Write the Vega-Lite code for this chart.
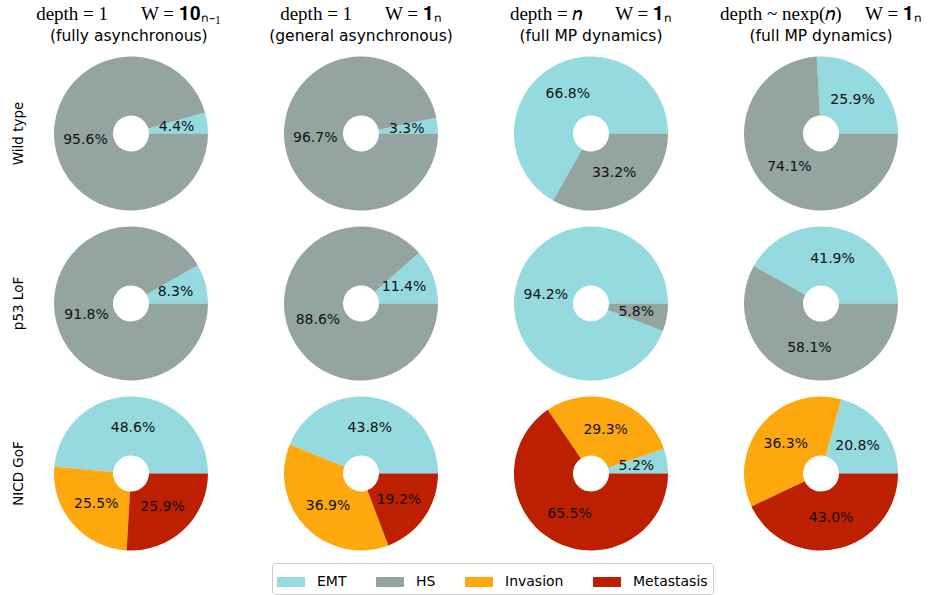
{
  "$schema": "https://vega.github.io/schema/vega-lite/v6.json",
  "background": "white",
  "padding": {"left": 11, "top": 4, "right": 0, "bottom": 2},
  "data": {"values": [
    {"m": "Wild type", "c": "c1", "k": "EMT", "o": 1, "v": 4.4, "t": "4.4%"},
    {"m": "Wild type", "c": "c1", "k": "HS", "o": 2, "v": 95.6, "t": "95.6%"},
    {"m": "Wild type", "c": "c2", "k": "EMT", "o": 1, "v": 3.3, "t": "3.3%"},
    {"m": "Wild type", "c": "c2", "k": "HS", "o": 2, "v": 96.7, "t": "96.7%"},
    {"m": "Wild type", "c": "c3", "k": "EMT", "o": 1, "v": 66.8, "t": "66.8%"},
    {"m": "Wild type", "c": "c3", "k": "HS", "o": 2, "v": 33.2, "t": "33.2%"},
    {"m": "Wild type", "c": "c4", "k": "EMT", "o": 1, "v": 25.9, "t": "25.9%"},
    {"m": "Wild type", "c": "c4", "k": "HS", "o": 2, "v": 74.1, "t": "74.1%"},
    {"m": "p53 LoF", "c": "c1", "k": "EMT", "o": 1, "v": 8.3, "t": "8.3%"},
    {"m": "p53 LoF", "c": "c1", "k": "HS", "o": 2, "v": 91.8, "t": "91.8%"},
    {"m": "p53 LoF", "c": "c2", "k": "EMT", "o": 1, "v": 11.4, "t": "11.4%"},
    {"m": "p53 LoF", "c": "c2", "k": "HS", "o": 2, "v": 88.6, "t": "88.6%"},
    {"m": "p53 LoF", "c": "c3", "k": "EMT", "o": 1, "v": 94.2, "t": "94.2%"},
    {"m": "p53 LoF", "c": "c3", "k": "HS", "o": 2, "v": 5.8, "t": "5.8%"},
    {"m": "p53 LoF", "c": "c4", "k": "EMT", "o": 1, "v": 41.9, "t": "41.9%"},
    {"m": "p53 LoF", "c": "c4", "k": "HS", "o": 2, "v": 58.1, "t": "58.1%"},
    {"m": "NICD GoF", "c": "c1", "k": "EMT", "o": 1, "v": 48.6, "t": "48.6%"},
    {"m": "NICD GoF", "c": "c1", "k": "Invasion", "o": 3, "v": 25.5, "t": "25.5%"},
    {"m": "NICD GoF", "c": "c1", "k": "Metastasis", "o": 4, "v": 25.9, "t": "25.9%"},
    {"m": "NICD GoF", "c": "c2", "k": "EMT", "o": 1, "v": 43.8, "t": "43.8%"},
    {"m": "NICD GoF", "c": "c2", "k": "Invasion", "o": 3, "v": 36.9, "t": "36.9%"},
    {"m": "NICD GoF", "c": "c2", "k": "Metastasis", "o": 4, "v": 19.2, "t": "19.2%"},
    {"m": "NICD GoF", "c": "c3", "k": "EMT", "o": 1, "v": 5.2, "t": "5.2%"},
    {"m": "NICD GoF", "c": "c3", "k": "Invasion", "o": 3, "v": 29.3, "t": "29.3%"},
    {"m": "NICD GoF", "c": "c3", "k": "Metastasis", "o": 4, "v": 65.5, "t": "65.5%"},
    {"m": "NICD GoF", "c": "c4", "k": "EMT", "o": 1, "v": 20.8, "t": "20.8%"},
    {"m": "NICD GoF", "c": "c4", "k": "Invasion", "o": 3, "v": 36.3, "t": "36.3%"},
    {"m": "NICD GoF", "c": "c4", "k": "Metastasis", "o": 4, "v": 43.0, "t": "43.0%"}
  ]},
  "spacing": 0,
  "hconcat": [
    {
      "transform": [{"filter": "datum.c == 'c1'"}],
      "title": {"text": "depth = 1\u2003\u2002 W = 𝟏𝟎ₙ₋₁", "subtitle": "(fully asynchronous)"},
      "facet": {"row": {"field": "m", "type": "nominal", "sort": ["Wild type", "p53 LoF", "NICD GoF"],
        "header": {"title": null, "labelAngle": -90, "labelOrient": "left", "labelFont": "DejaVu Sans", "labelFontSize": 13.5, "labelColor": "#000", "labelPadding": -23, "labelAlign": "center", "labelBaseline": "bottom"}}},
      "spacing": 5,
      "spec": {
        "width": 230, "height": 165,
        "layer": [
          {"mark": {"type": "arc", "innerRadius": 18, "outerRadius": 77},
           "encoding": {
             "theta": {"field": "v", "type": "quantitative", "stack": "normalize", "scale": {"range": [1.5708, -4.7124]}},
             "color": {"field": "k", "type": "nominal", "scale": {"domain": ["EMT", "HS", "Invasion", "Metastasis"], "range": ["#94dadf", "#94a4a1", "#fea80f", "#bc2000"]}},
             "order": {"field": "o", "type": "quantitative"}}},
          {"mark": {"type": "text", "radius": 46, "font": "DejaVu Sans", "fontSize": 14, "color": "#111"},
           "encoding": {
             "theta": {"field": "v", "type": "quantitative", "stack": "normalize", "scale": {"range": [1.5708, -4.7124]}},
             "order": {"field": "o", "type": "quantitative"},
             "text": {"field": "t"}}}
        ]
      }
    },
    {
      "transform": [{"filter": "datum.c == 'c2'"}],
      "title": {"text": "depth = 1\u2003\u2002 W = 𝟏ₙ", "subtitle": "(general asynchronous)"},
      "facet": {"row": {"field": "m", "type": "nominal", "sort": ["Wild type", "p53 LoF", "NICD GoF"], "header": {"title": null, "labels": false}}},
      "spacing": 5,
      "spec": {
        "width": 230, "height": 165,
        "layer": [
          {"mark": {"type": "arc", "innerRadius": 18, "outerRadius": 77},
           "encoding": {
             "theta": {"field": "v", "type": "quantitative", "stack": "normalize", "scale": {"range": [1.5708, -4.7124]}},
             "color": {"field": "k", "type": "nominal", "scale": {"domain": ["EMT", "HS", "Invasion", "Metastasis"], "range": ["#94dadf", "#94a4a1", "#fea80f", "#bc2000"]}},
             "order": {"field": "o", "type": "quantitative"}}},
          {"mark": {"type": "text", "radius": 46, "font": "DejaVu Sans", "fontSize": 14, "color": "#111"},
           "encoding": {
             "theta": {"field": "v", "type": "quantitative", "stack": "normalize", "scale": {"range": [1.5708, -4.7124]}},
             "order": {"field": "o", "type": "quantitative"},
             "text": {"field": "t"}}}
        ]
      }
    },
    {
      "transform": [{"filter": "datum.c == 'c3'"}],
      "title": {"text": "depth = 𝑛\u2003\u2002 W = 𝟏ₙ", "subtitle": "(full MP dynamics)"},
      "facet": {"row": {"field": "m", "type": "nominal", "sort": ["Wild type", "p53 LoF", "NICD GoF"], "header": {"title": null, "labels": false}}},
      "spacing": 5,
      "spec": {
        "width": 230, "height": 165,
        "layer": [
          {"mark": {"type": "arc", "innerRadius": 18, "outerRadius": 77},
           "encoding": {
             "theta": {"field": "v", "type": "quantitative", "stack": "normalize", "scale": {"range": [1.5708, -4.7124]}},
             "color": {"field": "k", "type": "nominal", "scale": {"domain": ["EMT", "HS", "Invasion", "Metastasis"], "range": ["#94dadf", "#94a4a1", "#fea80f", "#bc2000"]}},
             "order": {"field": "o", "type": "quantitative"}}},
          {"mark": {"type": "text", "radius": 46, "font": "DejaVu Sans", "fontSize": 14, "color": "#111"},
           "encoding": {
             "theta": {"field": "v", "type": "quantitative", "stack": "normalize", "scale": {"range": [1.5708, -4.7124]}},
             "order": {"field": "o", "type": "quantitative"},
             "text": {"field": "t"}}}
        ]
      }
    },
    {
      "transform": [{"filter": "datum.c == 'c4'"}],
      "title": {"text": "depth ~ nexp(𝑛)\u2003 W = 𝟏ₙ", "subtitle": "(full MP dynamics)"},
      "facet": {"row": {"field": "m", "type": "nominal", "sort": ["Wild type", "p53 LoF", "NICD GoF"], "header": {"title": null, "labels": false}}},
      "spacing": 5,
      "spec": {
        "width": 230, "height": 165,
        "layer": [
          {"mark": {"type": "arc", "innerRadius": 18, "outerRadius": 77},
           "encoding": {
             "theta": {"field": "v", "type": "quantitative", "stack": "normalize", "scale": {"range": [1.5708, -4.7124]}},
             "color": {"field": "k", "type": "nominal", "scale": {"domain": ["EMT", "HS", "Invasion", "Metastasis"], "range": ["#94dadf", "#94a4a1", "#fea80f", "#bc2000"]}},
             "order": {"field": "o", "type": "quantitative"}}},
          {"mark": {"type": "text", "radius": 46, "font": "DejaVu Sans", "fontSize": 14, "color": "#111"},
           "encoding": {
             "theta": {"field": "v", "type": "quantitative", "stack": "normalize", "scale": {"range": [1.5708, -4.7124]}},
             "order": {"field": "o", "type": "quantitative"},
             "text": {"field": "t"}}}
        ]
      }
    }
  ],
  "config": {
    "view": {"stroke": null},
    "title": {"font": "Liberation Serif", "fontSize": 19, "fontWeight": "normal", "color": "#000", "subtitleFont": "DejaVu Sans", "subtitleFontSize": 15.5, "subtitleColor": "#000", "subtitlePadding": 5, "anchor": "middle", "offset": 7},
    "legend": {"orient": "none", "legendX": 256, "legendY": 512, "direction": "horizontal", "title": null, "labelFont": "DejaVu Sans", "labelFontSize": 14, "labelColor": "#000", "symbolType": "M-1,-0.357H1V0.357H-1Z", "symbolSize": 784, "symbolStrokeWidth": 0, "symbolOpacity": 1, "labelOffset": 12, "columnPadding": 29, "strokeColor": "#cccccc", "padding": 5, "cornerRadius": 3}
  }
}
